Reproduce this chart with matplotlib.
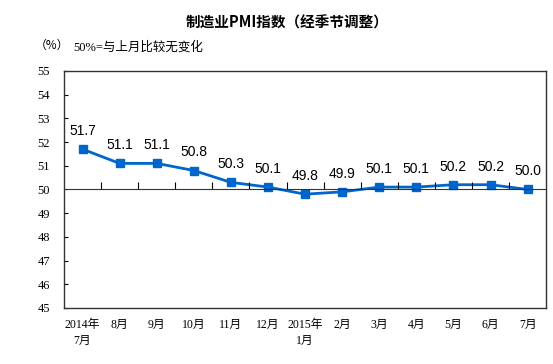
import numpy as np
import matplotlib.pyplot as plt

plt.rcParams['font.family'] = ['Liberation Serif', 'Noto Sans CJK SC']

# data
months = ['2014年\n7月', '8月', '9月', '10月', '11月', '12月', '2015年\n1月',
          '2月', '3月', '4月', '5月', '6月', '7月']
pmi = [51.7, 51.1, 51.1, 50.8, 50.3, 50.1, 49.8, 49.9, 50.1, 50.1, 50.2, 50.2, 50.0]
yticks = list(range(45, 56))

fig = plt.figure(figsize=(5.53, 3.64), dpi=100)
ax = fig.add_axes([0.1157, 0.154, 0.872, 0.651])

x = np.arange(len(pmi))
ax.plot(x, pmi, color='#0066CC', lw=2, marker='s', ms=6, zorder=3)
for xi, v in zip(x, pmi):
    ax.annotate(f'{v:.1f}', (xi, v), textcoords='offset points', xytext=(0, 13),
                ha='center', va='center', fontsize=10, family=['Liberation Sans'])

ax.set_xlim(-0.5, len(pmi) - 0.5)
ax.set_ylim(45, 55)
ax.set_yticks(yticks)
ax.tick_params(axis='y', direction='in', length=3, labelsize=9, pad=10)
ax.set_xticks(x)
ax.set_xticklabels(months, fontsize=8.5, linespacing=1.4)
ax.tick_params(axis='x', length=0, pad=8)
for s in ax.spines.values():
    s.set_linewidth(1.0)
    s.set_color('#333333')

# 50 line with category ticks
ax2 = ax.twiny()
ax2.set_xlim(ax.get_xlim())
ax2.xaxis.set_ticks_position('bottom')
ax2.spines['bottom'].set_position(('data', 50))
ax2.spines['bottom'].set_color('#333333')
for s in ['top', 'left', 'right']:
    ax2.spines[s].set_visible(False)
ax2.set_xticks(np.arange(0.5, len(pmi) - 1, 1))
ax2.tick_params(axis='x', direction='in', length=5, labelbottom=False, labeltop=False)

fig.text(0.52, 0.937, '制造业PMI指数（经季节调整）', ha='center', va='center',
         fontsize=10.5, fontweight='bold', family=['Noto Sans CJK SC'])
fig.text(0.062, 0.876, '（%）', ha='left', va='center', fontsize=8.5,
         family=['Noto Sans CJK SC'])
fig.text(0.132, 0.870, '50%=与上月比较无变化', ha='left', va='center', fontsize=9)

fig.savefig('out.png', dpi=100)
